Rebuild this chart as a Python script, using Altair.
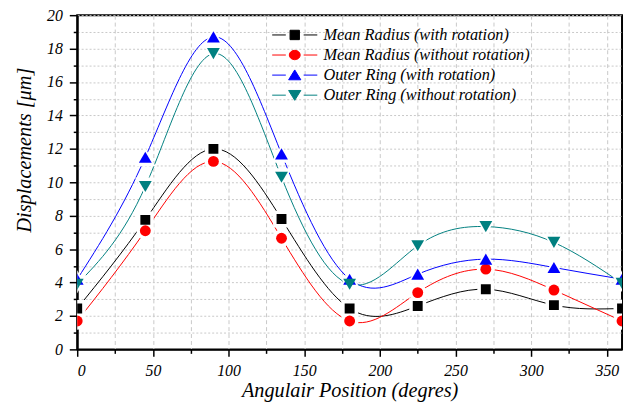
import altair as alt
import pandas as pd

angles = [0, 45, 90, 135, 180, 225, 270, 315, 360]
series_names = [
    "Mean Radius (with rotation)",
    "Mean Radius (without rotation)",
    "Outer Ring (with rotation)",
    "Outer Ring (without rotation)",
]
mr_rot = [2.45, 7.75, 12.0, 7.8, 2.45, 2.6, 3.6, 2.65, 2.45]
mr_norot = [1.7, 7.1, 11.25, 6.65, 1.7, 3.4, 4.8, 3.55, 1.7]
or_rot = [4.2, 11.5, 18.7, 11.7, 4.2, 4.5, 5.4, 4.9, 4.2]
or_norot = [3.9, 9.75, 17.7, 10.3, 3.9, 6.2, 7.35, 6.4, 3.95]

colors = ["#000000", "#ff0000", "#0000ff", "#008080"]
shapes = ["square", "circle", "triangle-up", "triangle-down"]
marker_sizes = [100, 121, 169, 169]
halo_sizes = [289, 324, 441, 441]
legend_paths = [
    "M-2.4,0H-0.95M0.95,0H2.4M-0.5,-0.5H0.5V0.5H-0.5Z",
    "M-2.4,0H-0.95M0.95,0H2.4M-0.58,0A0.58,0.5 0 1,0 0.58,0A0.58,0.5 0 1,0 -0.58,0Z",
    "M-2.4,0H-0.95M0.95,0H2.4M0,-0.55L0.65,0.5H-0.65Z",
    "M-2.4,0H-0.95M0.95,0H2.4M0,0.55L0.65,-0.5H-0.65Z",
]

rows = []
for name, vals in zip(series_names, [mr_rot, mr_norot, or_rot, or_norot]):
    for a, v in zip(angles, vals):
        rows.append({"angle": a, "disp": v, "series": name})
df = pd.DataFrame(rows)

font = "Liberation Serif"

x = alt.X(
    "angle:Q",
    scale=alt.Scale(domain=[0, 360], nice=False, zero=False),
    axis=alt.Axis(
        values=list(range(0, 351, 25)),
        labelExpr="datum.value % 50 === 0 ? datum.label : ''",
        title="Angulair Position (degres)",
        tickSize={"condition": {"test": "datum.value % 50 === 0", "value": 7}, "value": 4},
        gridDash=[4, 3],
        labelPadding=6,
        titlePadding=3,
    ),
)
y = alt.Y(
    "disp:Q",
    scale=alt.Scale(domain=[0, 20], nice=False),
    axis=alt.Axis(
        values=list(range(0, 21, 1)),
        labelExpr="datum.value % 2 === 0 ? datum.label : ''",
        title="Displacements [\u03bcm]",
        tickSize={"condition": {"test": "datum.value % 2 === 0", "value": 8}, "value": 4},
        gridDash=[2, 2],
        labelPadding=7,
        titlePadding=12,
        titleY=136,
    ),
)

# colour scale for the drawn marks (data-driven domain, alphabetical == series order)
color_scale = alt.Scale(range=colors)
base = alt.Chart(df)

lines = base.mark_line(interpolate="natural", strokeWidth=1, clip=True).encode(
    x=x, y=y, color=alt.Color("series:N", scale=color_scale, legend=None)
)

halos = []
markers = []
for name, shp, ms, hs in zip(series_names, shapes, marker_sizes, halo_sizes):
    sub = base.transform_filter(alt.datum.series == name)
    halos.append(
        sub.mark_point(filled=True, color="white", opacity=1, shape=shp, size=hs, clip=True).encode(x=x, y=y)
    )
    markers.append(
        sub.mark_point(filled=True, opacity=1, shape=shp, size=ms, clip=True).encode(
            x=x, y=y, color=alt.Color("series:N", scale=color_scale, legend=None)
        )
    )

leg = alt.Legend(
    title=None,
    orient="none",
    legendX=210,
    legendY=10,
    symbolSize=361,
    labelOffset=19,
    rowPadding=1.3,
    padding=0,
    symbolStrokeWidth=1,
    symbolOpacity=1,
    labelFont=font,
    labelFontStyle="italic",
    labelFontSize=16.5,
    labelColor="#000000",
    labelLimit=400,
)
legend_layer = base.transform_filter("false").mark_point(filled=True, opacity=1, strokeWidth=1).encode(
    x=x, y=y,
    shape=alt.Shape("series:N", scale=alt.Scale(domain=series_names, range=legend_paths), legend=leg),
    fill=alt.Fill("series:N", scale=alt.Scale(domain=series_names, range=colors), legend=leg),
    stroke=alt.Stroke("series:N", scale=alt.Scale(domain=series_names, range=colors), legend=leg),
)

chart = (
    alt.layer(lines, *halos, *markers, legend_layer)
    .properties(
        width=551,
        height=338,
        autosize=alt.AutoSizeParams(type="none"),
        padding={"left": 70, "top": 5, "right": 2, "bottom": 55},
        background="white",
    )
    .configure_view(stroke="#000000", strokeWidth=2)
    .configure_axis(
        domainColor="#000000",
        domainWidth=2,
        tickColor="#000000",
        tickWidth=1.5,
        gridColor="#c8c8c8",
        gridWidth=1,
        labelFont=font,
        labelFontStyle="italic",
        labelFontSize=16,
        labelColor="#000000",
        titleFont=font,
        titleFontStyle="italic",
        titleFontWeight="normal",
        titleFontSize=20.5,
        titleColor="#000000",
    )
)

chart.save("out.html", embed_options={"renderer": "svg", "actions": False})
